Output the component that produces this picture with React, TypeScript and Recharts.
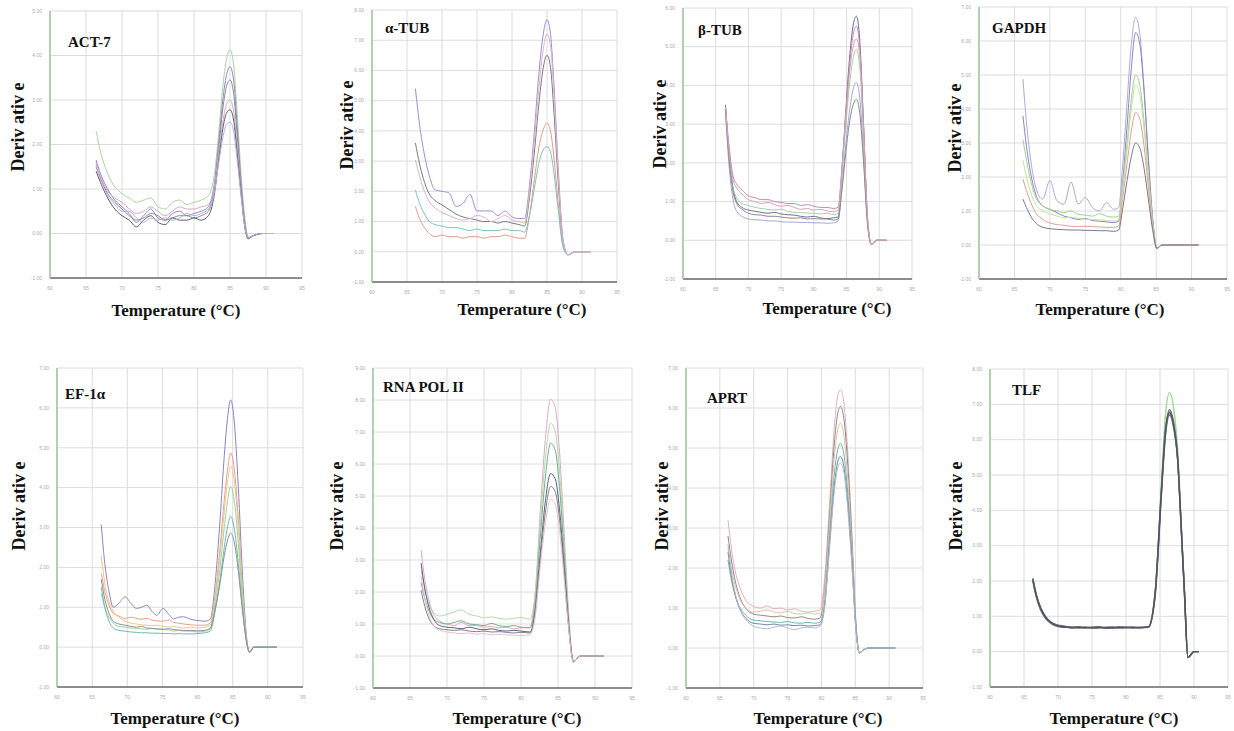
import React from "react";
import { CartesianGrid, Line, LineChart, XAxis, YAxis } from "recharts";

// melt-curve panels, y values in grid units (0 = baseline)
const TEMP_TICKS = [60, 65, 70, 75, 80, 85, 90, 95];

const Y_TICKS_6 = [-1, 0, 1, 2, 3, 4, 5];
const Y_TICKS_7 = [-1, 0, 1, 2, 3, 4, 5, 6];
const Y_TICKS_8 = [-1, 0, 1, 2, 3, 4, 5, 6, 7];
const Y_TICKS_9 = [-1, 0, 1, 2, 3, 4, 5, 6, 7, 8];
const Y_TICKS_10 = [-1, 0, 1, 2, 3, 4, 5, 6, 7, 8, 9];

// ACT-7
const actTemp = [66.4, 67, 68, 69, 70, 71, 72, 73, 74, 75, 76, 77, 78, 79, 80, 81, 82, 82.8, 83.4, 84, 84.5, 85, 85.5, 86, 86.6, 87.1, 87.5, 88.2, 89.5, 91.1];
const actSeries = [
  [2.3, 1.85, 1.35, 1.05, 0.9, 0.8, 0.7, 0.75, 0.8, 0.6, 0.55, 0.7, 0.75, 0.65, 0.7, 0.75, 0.85, 1.3, 2.2, 3.3, 3.9, 4.13, 3.8, 2.7, 1.2, 0.3, -0.08, -0.05, 0, 0],
  [1.65, 1.35, 1.0, 0.75, 0.6, 0.45, 0.25, 0.4, 0.55, 0.35, 0.3, 0.45, 0.5, 0.4, 0.45, 0.5, 0.6, 1.1, 2.0, 3.0, 3.55, 3.75, 3.45, 2.4, 1.0, 0.2, -0.1, -0.05, 0, 0],
  [1.5, 1.25, 0.9, 0.7, 0.55, 0.4, 0.3, 0.35, 0.45, 0.4, 0.3, 0.35, 0.4, 0.4, 0.35, 0.4, 0.5, 1.0, 1.85, 2.8, 3.3, 3.45, 3.15, 2.2, 0.9, 0.15, -0.1, -0.05, 0, 0],
  [1.6, 1.3, 0.95, 0.8, 0.7, 0.55, 0.45, 0.5, 0.6, 0.5, 0.4, 0.5, 0.6, 0.55, 0.55, 0.6, 0.65, 1.05, 1.75, 2.5, 2.9, 3.0, 2.75, 1.95, 0.85, 0.15, -0.1, -0.05, 0, 0],
  [1.4, 1.15, 0.8, 0.55, 0.4, 0.3, 0.15, 0.3, 0.4, 0.25, 0.2, 0.35, 0.3, 0.3, 0.35, 0.3, 0.4, 0.85, 1.6, 2.35, 2.7, 2.78, 2.55, 1.8, 0.8, 0.1, -0.12, -0.05, 0, 0],
  [1.55, 1.2, 0.85, 0.65, 0.5, 0.5, 0.35, 0.25, 0.35, 0.3, 0.35, 0.3, 0.35, 0.45, 0.4, 0.45, 0.55, 0.9, 1.55, 2.15, 2.45, 2.5, 2.3, 1.65, 0.75, 0.1, -0.1, -0.05, 0, 0],
];
const actColors = ["#a8d8a0", "#8f86c6", "#8c8c8c", "#d6a8c8", "#5c5c6e", "#b4aee0"];

// α-TUB
const aTubTemp = [66.2, 66.8, 67.5, 68.2, 69, 70, 71, 72, 73, 74, 75, 76, 77, 78, 79, 80, 81, 81.8, 82.5, 83.2, 83.8, 84.4, 85, 85.5, 86, 86.6, 87.3, 88, 89, 91.2];
const aTubSeries = [
  [5.4, 4.2, 3.2, 2.5, 2.05, 2.0, 1.95, 1.5, 1.6, 1.9, 1.35, 1.35, 1.35, 1.2, 1.35, 1.15, 1.1, 1.1, 2.2, 4.0, 5.8, 7.1, 7.68, 7.2, 5.5, 2.8, 0.4, -0.1, 0, 0],
  [3.6, 2.9, 2.3, 1.9, 1.7, 1.55, 1.4, 1.25, 1.15, 1.1, 1.05, 1.0, 1.0, 0.95, 1.0, 0.95, 0.9, 0.85, 1.8, 3.3, 4.8, 6.0, 6.5, 6.1, 4.6, 2.3, 0.3, -0.1, 0, 0],
  [1.5, 1.1, 0.8, 0.6, 0.5, 0.55, 0.5, 0.5, 0.45, 0.5, 0.5, 0.45, 0.5, 0.5, 0.55, 0.5, 0.45, 0.45, 1.2, 2.4, 3.4, 4.0, 4.25, 4.0, 3.1, 1.6, 0.2, -0.1, 0, 0],
  [2.04, 1.6, 1.25, 1.0, 0.9, 0.85, 0.8, 0.8, 0.75, 0.7, 0.75, 0.7, 0.7, 0.7, 0.75, 0.7, 0.7, 0.65, 1.2, 2.1, 2.9, 3.35, 3.48, 3.3, 2.6, 1.4, 0.15, -0.1, 0, 0],
  [3.04, 2.5, 2.0, 1.65, 1.45, 1.3, 1.2, 1.1, 1.05, 1.1, 1.2, 1.15, 1.0, 1.1, 1.2, 1.05, 1.0, 0.95, 2.0, 3.7, 5.3, 6.6, 7.2, 6.8, 5.2, 2.6, 0.35, -0.1, 0, 0],
];
const aTubColors = ["#9a90d0", "#7a7a7a", "#e49a84", "#80c0bc", "#dcb4c8"];

// β-TUB
const bTubTemp = [66.5, 67, 67.6, 68.2, 69, 70, 71, 72, 73, 74, 75, 76, 77, 78, 79, 80, 81, 82, 83, 83.7, 84.3, 84.9, 85.5, 86, 86.5, 87, 87.6, 88.2, 88.8, 89.6, 91.1];
const bTubSeries = [
  [3.5, 2.3, 1.4, 1.0, 0.85, 0.78, 0.75, 0.72, 0.7, 0.72, 0.68, 0.66, 0.65, 0.62, 0.6, 0.62, 0.58, 0.56, 0.58, 0.6, 1.8, 3.4, 4.8, 5.55, 5.79, 5.2, 3.0, 0.6, -0.11, 0, 0],
  [3.4, 2.5, 1.7, 1.45, 1.3, 1.15, 1.1, 1.05, 1.05, 1.0, 0.98, 0.95, 0.95, 0.9, 0.92, 0.88, 0.85, 0.85, 0.82, 0.85, 1.9, 3.3, 4.6, 5.3, 5.53, 5.0, 2.9, 0.55, -0.1, 0, 0],
  [3.3, 2.2, 1.4, 1.1, 0.95, 0.9, 0.85, 0.82, 0.8, 0.78, 0.8, 0.75, 0.72, 0.72, 0.7, 0.7, 0.68, 0.7, 0.66, 0.7, 1.7, 3.0, 4.1, 4.7, 4.93, 4.5, 2.6, 0.5, -0.1, 0, 0],
  [3.3, 2.0, 1.1, 0.75, 0.62, 0.55, 0.53, 0.52, 0.5, 0.5, 0.48, 0.47, 0.47, 0.46, 0.46, 0.45, 0.45, 0.44, 0.45, 0.5, 1.4, 2.5, 3.4, 3.9, 4.07, 3.7, 2.2, 0.45, -0.1, 0, 0],
  [3.4, 2.2, 1.3, 0.95, 0.8, 0.7, 0.66, 0.65, 0.62, 0.62, 0.6, 0.58, 0.57, 0.58, 0.55, 0.56, 0.55, 0.55, 0.52, 0.55, 1.3, 2.3, 3.1, 3.5, 3.64, 3.3, 2.0, 0.4, -0.1, 0, 0],
  [3.45, 2.4, 1.6, 1.35, 1.2, 1.05, 1.0, 0.95, 0.98, 0.92, 0.88, 0.9, 0.85, 0.8, 0.82, 0.78, 0.8, 0.76, 0.74, 0.78, 1.85, 3.2, 4.4, 5.0, 5.2, 4.8, 2.8, 0.55, -0.1, 0, 0],
];
const bTubColors = ["#6e6a9a", "#c08ab0", "#9ed4a0", "#a8a4dc", "#8a8a8a", "#d4a0b4"];

// GAPDH
const gapdhTemp = [66.2, 66.7, 67.3, 68, 69, 70, 71, 72, 73, 74, 75, 76, 77, 78, 79, 79.7, 80.3, 80.9, 81.5, 82.1, 82.7, 83.3, 83.9, 84.5, 85.1, 85.8, 87, 89, 91];
const gapdhSeries = [
  [4.88, 3.6, 2.5, 1.7, 1.35, 1.9, 1.3, 1.2, 1.85, 1.2, 1.4, 1.1, 1.0, 1.25, 1.05, 1.1, 2.4, 4.2, 5.9, 6.7, 6.2, 4.6, 2.6, 0.8, -0.1, 0, 0, 0, 0],
  [3.8, 2.9, 2.1, 1.5, 1.15, 1.05, 0.95, 0.85, 0.8, 0.75, 0.78, 0.72, 0.7, 0.68, 0.66, 0.7, 1.9, 3.5, 5.2, 6.25, 5.9, 4.5, 2.5, 0.8, -0.1, 0, 0, 0, 0],
  [3.1, 2.5, 1.9, 1.4, 1.15, 1.05, 1.0, 0.95, 1.0, 0.9, 0.88, 0.85, 0.92, 0.85, 0.82, 0.85, 1.8, 3.0, 4.3, 5.0, 4.7, 3.6, 2.1, 0.7, -0.1, 0, 0, 0, 0],
  [2.5, 2.0, 1.55, 1.2, 1.0, 0.92, 0.85, 0.8, 0.82, 0.78, 0.76, 0.75, 0.74, 0.72, 0.7, 0.74, 1.65, 2.8, 4.0, 4.7, 4.4, 3.4, 2.0, 0.65, -0.1, 0, 0, 0, 0],
  [1.94, 1.6, 1.25, 0.95, 0.75, 0.65, 0.6, 0.58, 0.55, 0.55, 0.55, 0.54, 0.53, 0.52, 0.52, 0.56, 1.4, 2.4, 3.35, 3.9, 3.7, 2.9, 1.7, 0.55, -0.1, 0, 0, 0, 0],
  [1.35, 1.1, 0.85, 0.65, 0.52, 0.48, 0.46, 0.45, 0.44, 0.44, 0.43, 0.43, 0.42, 0.42, 0.4, 0.44, 1.1, 1.9, 2.6, 3.0, 2.85, 2.25, 1.35, 0.45, -0.1, 0, 0, 0, 0],
];
const gapdhColors = ["#b0a8dc", "#8c84c4", "#a0d490", "#c4e0a0", "#e0a090", "#7c7698"];

// EF-1α
const efTemp = [66.3, 66.8, 67.4, 68, 68.8, 69.7, 70.5, 71.3, 72, 72.8, 73.5, 74.2, 75.1, 76, 76.6, 77.3, 78, 79, 79.9, 81, 81.8, 82.5, 83.2, 83.8, 84.3, 84.7, 85.2, 85.8, 86.4, 87, 87.4, 88, 91.3];
const efSeries = [
  [3.07, 2.1, 1.4, 1.0, 1.1, 1.26, 1.1, 0.97, 1.0, 1.05, 0.9, 0.8, 0.97, 0.8, 0.71, 0.75, 0.76, 0.7, 0.67, 0.65, 0.7, 1.6, 3.2, 4.8, 5.8, 6.2, 5.7, 4.0, 1.8, 0.2, -0.13, 0, 0],
  [1.85, 1.4, 1.05, 0.85, 0.78, 0.72, 0.75, 0.72, 0.7, 0.72, 0.68, 0.66, 0.65, 0.68, 0.62, 0.6, 0.58, 0.56, 0.55, 0.55, 0.6, 1.3, 2.5, 3.7, 4.5, 4.87, 4.5, 3.2, 1.4, 0.15, -0.13, 0, 0],
  [2.3, 1.6, 1.15, 0.9, 0.75, 0.65, 0.6, 0.58, 0.56, 0.55, 0.54, 0.55, 0.52, 0.5, 0.52, 0.5, 0.48, 0.5, 0.48, 0.5, 0.55, 1.2, 2.3, 3.4, 4.2, 4.54, 4.2, 3.0, 1.3, 0.15, -0.13, 0, 0],
  [1.34, 1.0, 0.75, 0.6, 0.52, 0.5, 0.48, 0.47, 0.46, 0.45, 0.47, 0.45, 0.44, 0.43, 0.4, 0.42, 0.4, 0.4, 0.38, 0.4, 0.45, 1.05, 2.0, 3.0, 3.7, 4.03, 3.7, 2.6, 1.15, 0.1, -0.13, 0, 0],
  [1.5, 1.0, 0.65, 0.48, 0.42, 0.4, 0.38, 0.37, 0.36, 0.36, 0.35, 0.35, 0.34, 0.34, 0.33, 0.34, 0.33, 0.33, 0.34, 0.36, 0.4, 0.9, 1.7, 2.5, 3.05, 3.28, 3.0, 2.1, 0.95, 0.1, -0.13, 0, 0],
  [1.7, 1.2, 0.85, 0.65, 0.58, 0.55, 0.52, 0.5, 0.52, 0.48, 0.47, 0.46, 0.45, 0.46, 0.44, 0.43, 0.42, 0.42, 0.41, 0.42, 0.48, 0.95, 1.6, 2.3, 2.7, 2.86, 2.65, 1.9, 0.9, 0.1, -0.13, 0, 0],
];
const efColors = ["#8a84c4", "#e8a088", "#e8c890", "#9ed49a", "#70b8b8", "#909090"];

// RNA POL II
const rnaTemp = [66.5, 67, 67.6, 68.2, 69, 70, 71, 71.9, 73, 74, 75, 76, 77, 78, 79, 80, 81.2, 81.9, 82.6, 83.3, 84, 84.6, 85.2, 85.8, 86.4, 87.1, 88, 89.5, 91.2];
const rnaSeries = [
  [3.3, 2.4, 1.7, 1.3, 1.1, 1.0, 0.95, 1.05, 0.95, 0.95, 0.9, 0.92, 0.88, 0.9, 0.85, 0.88, 0.9, 1.9, 4.5, 6.8, 8.02, 7.8, 6.4, 4.0, 1.5, -0.18, 0, 0, 0],
  [2.7, 2.1, 1.6, 1.35, 1.25, 1.3, 1.38, 1.44, 1.3, 1.25, 1.2, 1.22, 1.18, 1.15, 1.18, 1.2, 1.15, 1.9, 4.1, 6.2, 7.27, 7.05, 5.8, 3.6, 1.3, -0.18, 0, 0, 0],
  [2.3, 1.8, 1.4, 1.15, 1.05, 1.0, 1.05, 1.1, 1.0, 0.98, 0.95, 1.02, 0.95, 0.92, 0.95, 0.9, 0.88, 1.6, 3.7, 5.6, 6.65, 6.45, 5.3, 3.3, 1.2, -0.18, 0, 0, 0],
  [2.9, 2.1, 1.5, 1.15, 0.95, 0.9, 0.88, 0.85, 0.9, 0.85, 0.82, 0.85, 0.8, 0.78, 0.8, 0.78, 0.75, 1.4, 3.2, 4.85, 5.7, 5.55, 4.6, 2.9, 1.05, -0.18, 0, 0, 0],
  [2.06, 1.55, 1.15, 0.95, 0.85, 0.82, 0.8, 0.82, 0.78, 0.76, 0.78, 0.75, 0.76, 0.74, 0.72, 0.74, 0.72, 1.3, 3.0, 4.5, 5.3, 5.15, 4.3, 2.7, 1.0, -0.18, 0, 0, 0],
  [2.5, 1.8, 1.25, 0.95, 0.8, 0.75, 0.72, 0.7, 0.72, 0.68, 0.7, 0.66, 0.68, 0.66, 0.65, 0.64, 0.66, 1.2, 2.8, 4.15, 4.9, 4.75, 3.95, 2.5, 0.95, -0.18, 0, 0, 0],
];
const rnaColors = ["#e0a8c0", "#b0dca8", "#70b08a", "#5a5c8c", "#808080", "#e8c0d0"];

// APRT
const aprtTemp = [66.2, 66.7, 67.3, 68, 68.8, 69.9, 71, 72, 73, 74, 75, 76, 77, 78, 79, 79.8, 80.5, 81.2, 81.9, 82.4, 82.8, 83.3, 83.9, 84.5, 85.1, 85.6, 86.2, 87, 90.9];
const aprtSeries = [
  [3.2, 2.5, 1.9, 1.5, 1.2, 1.05, 1.0, 1.05, 0.98, 1.0, 0.95, 0.98, 0.92, 0.9, 0.92, 0.95, 1.8, 3.6, 5.5, 6.3, 6.46, 6.15, 4.85, 2.9, 0.65, -0.12, -0.05, 0, 0],
  [2.8, 2.2, 1.65, 1.25, 1.0, 0.85, 0.82, 0.8, 0.78, 0.8, 0.76, 0.75, 0.78, 0.74, 0.72, 0.75, 1.55, 3.3, 5.1, 5.85, 6.04, 5.75, 4.55, 2.7, 0.6, -0.12, -0.05, 0, 0],
  [2.5, 2.0, 1.55, 1.2, 1.0, 0.9, 0.92, 0.95, 0.9, 0.88, 0.92, 0.86, 0.85, 0.88, 0.85, 0.86, 1.5, 3.1, 4.75, 5.45, 5.62, 5.35, 4.2, 2.5, 0.55, -0.12, -0.05, 0, 0],
  [2.2, 1.7, 1.3, 1.0, 0.82, 0.7, 0.68, 0.66, 0.65, 0.64, 0.66, 0.63, 0.62, 0.64, 0.62, 0.64, 1.2, 2.8, 4.35, 4.95, 5.12, 4.85, 3.85, 2.3, 0.5, -0.12, -0.05, 0, 0],
  [2.4, 1.8, 1.3, 0.95, 0.75, 0.62, 0.6, 0.58, 0.6, 0.57, 0.58, 0.56, 0.57, 0.55, 0.56, 0.58, 1.1, 2.6, 4.05, 4.65, 4.79, 4.55, 3.6, 2.15, 0.48, -0.12, -0.05, 0, 0],
  [2.6, 1.9, 1.35, 0.95, 0.72, 0.55, 0.5, 0.48, 0.52, 0.55, 0.5, 0.46, 0.5, 0.52, 0.5, 0.55, 1.05, 2.5, 3.9, 4.5, 4.62, 4.4, 3.45, 2.05, 0.45, -0.12, -0.05, 0, 0],
];
const aprtColors = ["#e0b0c0", "#8a8a8a", "#e8c0a0", "#70b4b4", "#6a8aa8", "#b8b8c8"];

// TLF
const tlfTemp = [66.3, 66.8, 67.4, 68.1, 69, 70, 71, 72, 73, 74, 75, 76, 77, 78, 79, 80, 81, 82, 83.3, 84.3, 85.2, 85.8, 86.4, 87, 87.6, 88.1, 88.6, 89.1, 90, 90.7];
const tlfSeries = [
  [2.02, 1.58, 1.22, 0.98, 0.8, 0.72, 0.71, 0.7, 0.68, 0.69, 0.7, 0.68, 0.67, 0.69, 0.68, 0.67, 0.69, 0.67, 0.71, 1.75, 4.7, 6.7, 7.33, 6.9, 5.7, 3.7, 1.65, -0.17, 0, 0],
  [2.04, 1.61, 1.24, 0.99, 0.81, 0.74, 0.7, 0.7, 0.7, 0.68, 0.68, 0.7, 0.68, 0.67, 0.68, 0.7, 0.68, 0.67, 0.69, 1.65, 4.6, 6.3, 6.8, 6.45, 5.45, 3.6, 1.68, -0.17, 0, 0],
  [2.08, 1.62, 1.27, 1.01, 0.83, 0.75, 0.72, 0.67, 0.7, 0.67, 0.69, 0.7, 0.66, 0.67, 0.7, 0.69, 0.67, 0.69, 0.69, 1.6, 4.4, 6.1, 6.7, 6.35, 5.4, 3.55, 1.6, -0.17, 0, 0],
  [2.0, 1.55, 1.2, 0.96, 0.79, 0.71, 0.69, 0.69, 0.67, 0.7, 0.67, 0.67, 0.69, 0.7, 0.67, 0.68, 0.7, 0.68, 0.7, 1.7, 4.55, 6.25, 6.85, 6.5, 5.5, 3.62, 1.7, -0.17, 0, 0],
  [2.05, 1.6, 1.25, 1.0, 0.82, 0.73, 0.7, 0.68, 0.69, 0.68, 0.68, 0.69, 0.68, 0.68, 0.69, 0.68, 0.68, 0.68, 0.7, 1.67, 4.5, 6.2, 6.76, 6.4, 5.44, 3.6, 1.67, -0.17, 0, 0],
];
const tlfColors = ["#9ad890", "#b08aa0", "#6c6a90", "#6e6e6e", "#4e5660"];

type PanelDef = {
  title: string;
  temps: number[];
  series: number[][];
  colors: string[];
  yTicks: number[];
  box: { l: number; t: number; r: number; b: number };
  titleX: number;
  titleY: number;
  derivX: number;
  derivY: number;
  tempX: number;
  tempY: number;
  lineWidth?: number;
};

const panels: PanelDef[] = [
  { title: "ACT-7", temps: actTemp, series: actSeries, colors: actColors, yTicks: Y_TICKS_6, box: { l: 50, t: 11, r: 302, b: 278 }, titleX: 68, titleY: 47, derivX: 18, derivY: 127, tempX: 176, tempY: 316 },
  { title: "α-TUB", temps: aTubTemp, series: aTubSeries, colors: aTubColors, yTicks: Y_TICKS_9, box: { l: 372, t: 10, r: 617, b: 282 }, titleX: 385, titleY: 33, derivX: 347, derivY: 125, tempX: 522, tempY: 315 },
  { title: "β-TUB", temps: bTubTemp, series: bTubSeries, colors: bTubColors, yTicks: Y_TICKS_7, box: { l: 683, t: 8, r: 912, b: 279 }, titleX: 698, titleY: 35, derivX: 660, derivY: 124, tempX: 827, tempY: 314 },
  { title: "GAPDH", temps: gapdhTemp, series: gapdhSeries, colors: gapdhColors, yTicks: Y_TICKS_8, box: { l: 979, t: 7, r: 1227, b: 279 }, titleX: 992, titleY: 33, derivX: 955, derivY: 128, tempX: 1100, tempY: 315 },
  { title: "EF-1α", temps: efTemp, series: efSeries, colors: efColors, yTicks: Y_TICKS_8, box: { l: 57, t: 368, r: 303, b: 687 }, titleX: 65, titleY: 399, derivX: 19, derivY: 506, tempX: 175, tempY: 724 },
  { title: "RNA POL II", temps: rnaTemp, series: rnaSeries, colors: rnaColors, yTicks: Y_TICKS_10, box: { l: 373, t: 368, r: 632, b: 688 }, titleX: 383, titleY: 392, derivX: 337, derivY: 506, tempX: 517, tempY: 724 },
  { title: "APRT", temps: aprtTemp, series: aprtSeries, colors: aprtColors, yTicks: Y_TICKS_8, box: { l: 686, t: 368, r: 923, b: 688 }, titleX: 707, titleY: 403, derivX: 662, derivY: 506, tempX: 818, tempY: 724 },
  { title: "TLF", temps: tlfTemp, series: tlfSeries, colors: tlfColors, yTicks: Y_TICKS_9, box: { l: 990, t: 369, r: 1228, b: 687 }, titleX: 1012, titleY: 395, derivX: 956, derivY: 506, tempX: 1114, tempY: 724, lineWidth: 1.4 },
];

const Y_AXIS_W = 22;
const X_AXIS_H = 14;
const PAD_T = 4;
const PAD_R = 6;

const tickStyle = { fontSize: 5, fill: "#aaaaaa", fontFamily: "Liberation Sans" };

const Panel = ({ p }: { p: PanelDef }) => {
  const rows = p.temps.map((t, i) => {
    const row: Record<string, number> = { t };
    p.series.forEach((s, k) => {
      row["s" + k] = s[i];
    });
    return row;
  });
  const w = p.box.r - p.box.l + Y_AXIS_W + PAD_R;
  const h = p.box.b - p.box.t + PAD_T + X_AXIS_H;
  const yMin = p.yTicks[0];
  const yMax = p.yTicks[p.yTicks.length - 1];

  return (
    <div style={{ position: "absolute", left: p.box.l - Y_AXIS_W, top: p.box.t - PAD_T }}>
      <LineChart width={w} height={h} data={rows} margin={{ top: PAD_T, right: PAD_R, bottom: 0, left: 0 }}>
        <CartesianGrid stroke="#dcdcdc" />
        <XAxis
          dataKey="t"
          type="number"
          domain={[60, 95]}
          ticks={TEMP_TICKS}
          interval={0}
          height={X_AXIS_H}
          tickLine={false}
          axisLine={{ stroke: "#6b6b6b", strokeWidth: 1.5 }}
          tick={tickStyle}
        />
        <YAxis
          type="number"
          domain={[yMin, yMax]}
          ticks={p.yTicks}
          interval={0}
          width={Y_AXIS_W}
          tickLine={false}
          allowDataOverflow
          axisLine={{ stroke: "#9cc49c", strokeWidth: 1.5 }}
          tick={tickStyle}
          tickFormatter={(v: number) => v.toFixed(2)}
        />
        {p.series.map((_, k) => (
          <Line
            key={k}
            dataKey={"s" + k}
            type="monotone"
            stroke={p.colors[k]}
            strokeWidth={p.lineWidth ?? 1}
            dot={false}
            isAnimationActive={false}
          />
        ))}
      </LineChart>
    </div>
  );
};

export default function App() {
  return (
    <div style={{ position: "absolute", left: 0, top: 0, width: 1234, height: 731, overflow: "hidden", background: "#ffffff" }}>
      {panels.map((p) => (
        <Panel key={p.title} p={p} />
      ))}
      <svg width={1234} height={731} style={{ position: "absolute", left: 0, top: 0, pointerEvents: "none" }}>
        {panels.map((p) => (
          <g key={p.title} fontFamily="Liberation Serif" fontWeight="bold" fill="#111">
            <text x={p.titleX} y={p.titleY} fontSize={15}>
              {p.title}
            </text>
            <text
              x={p.derivX}
              y={p.derivY}
              fontSize={18}
              textAnchor="middle"
              dominantBaseline="central"
              transform={`rotate(-90 ${p.derivX} ${p.derivY})`}
            >
              Deriv ativ e
            </text>
            <text x={p.tempX} y={p.tempY} fontSize={17} textAnchor="middle">
              Temperature (°C)
            </text>
          </g>
        ))}
      </svg>
    </div>
  );
}
